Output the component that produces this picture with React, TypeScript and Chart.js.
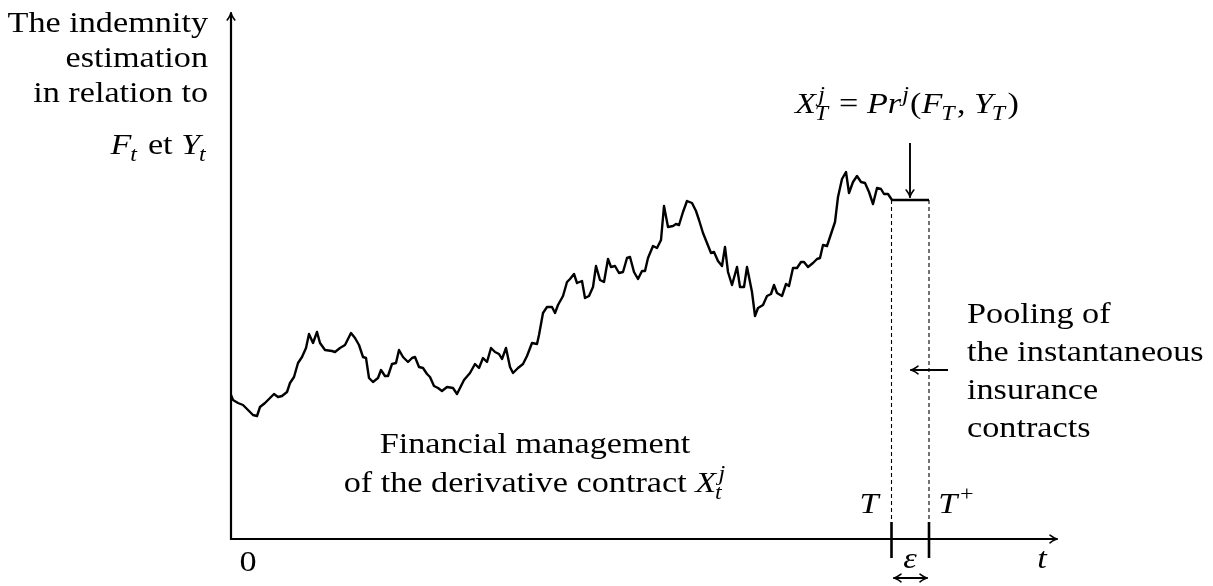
import React, { useEffect, useRef } from "react";
import { Chart, registerables } from "chart.js";

Chart.register(...registerables);

// Path of the indemnity estimation (x: time units from origin, y: value units)
const pathX = [
  0, 2, 7, 12, 17, 22, 26, 29, 34, 39, 43, 47, 51, 56, 59, 63, 67, 71, 75, 78,
  82, 86, 89, 94, 101, 104, 109, 114, 120, 124, 128, 132, 135, 138, 142, 147, 150, 154, 157, 161,
  165, 168, 172, 177, 181, 184, 188, 192, 196, 199, 203, 207, 211, 216, 222, 226, 233, 239, 244, 248,
  252, 256, 260, 264, 268, 271, 275, 279, 282, 287, 292, 296, 301, 306, 308, 312, 316, 321, 324, 327,
  332, 336, 339, 343, 346, 351, 354, 358, 362, 365, 369, 373, 377, 380, 384, 388, 392, 396, 399, 403,
  407, 411, 414, 417, 422, 426, 430, 433, 437, 442, 445, 448, 452, 456, 461, 465, 468, 472, 476, 480,
  483, 487, 491, 494, 497, 501, 506, 509, 513, 516, 521, 524, 527, 532, 536, 540, 543, 546, 551, 555,
  558, 562, 566, 570, 573, 577, 582, 586, 589, 592, 596, 600, 604, 607, 611, 615, 618, 622, 626, 630,
  634, 638, 642, 646, 650, 653, 657, 661, 698,
];
const pathY = [
  144, 139, 136, 134, 129, 124, 123, 132, 136, 141, 145, 142, 143, 147, 156, 162, 176, 182, 191, 205,
  196, 207, 196, 189, 188, 187, 191, 194, 206, 201, 194, 182, 181, 161, 157, 161, 169, 163, 163, 175,
  176, 189, 182, 177, 181, 182, 172, 171, 165, 162, 153, 151, 148, 152, 151, 145, 159, 166, 175, 171,
  181, 177, 191, 187, 185, 180, 191, 172, 166, 171, 175, 183, 196, 195, 204, 226, 232, 232, 226, 234,
  243, 257, 260, 265, 256, 258, 241, 243, 252, 273, 259, 257, 280, 272, 273, 266, 267, 281, 282, 267,
  260, 268, 268, 281, 293, 291, 299, 333, 312, 313, 315, 314, 327, 338, 336, 328, 319, 306, 296, 286,
  287, 278, 273, 292, 267, 254, 272, 252, 252, 272, 247, 223, 231, 234, 243, 245, 254, 246, 243, 255,
  253, 271, 271, 277, 277, 272, 276, 280, 281, 294, 293, 305, 317, 342, 360, 367, 346, 357, 363, 357,
  356, 347, 335, 351, 350, 345, 345, 339, 339,
];

const T_X = 660.5;
const TPLUS_X = 698;
const XT_LEVEL = 339;
const X_MAX = 827;
const Y_MAX = 527;

const FS = 29;
const SX = 1.18;

type Seg = { t: string; it?: boolean; sub?: string; sup?: string; supShift?: number };

function fnt(size: number, it?: boolean) {
  return `${it ? "italic " : ""}${size}px "Liberation Serif", "Times New Roman", serif`;
}

function segWidth(ctx: CanvasRenderingContext2D, s: Seg, size: number) {
  ctx.font = fnt(size, s.it);
  let w = ctx.measureText(s.t).width;
  if (s.sub || s.sup) {
    ctx.font = fnt(size * 0.7, true);
    const a = s.sub ? ctx.measureText(s.sub).width : 0;
    const b = s.sup ? ctx.measureText(s.sup).width + (s.supShift || 0) : 0;
    w += Math.max(a, b) + 1;
  }
  return w;
}

function drawRich(
  ctx: CanvasRenderingContext2D,
  segs: Seg[],
  x: number,
  y: number,
  align: "left" | "center" | "right",
  size = FS
) {
  let total = 0;
  for (const s of segs) total += segWidth(ctx, s, size);
  ctx.save();
  ctx.translate(x, y);
  ctx.scale(SX, 1);
  ctx.textAlign = "left";
  ctx.textBaseline = "alphabetic";
  ctx.fillStyle = "#000";
  let cx = align === "left" ? 0 : align === "center" ? -total / 2 : -total;
  for (const s of segs) {
    ctx.font = fnt(size, s.it);
    ctx.fillText(s.t, cx, 0);
    let w = ctx.measureText(s.t).width;
    if (s.sub || s.sup) {
      ctx.font = fnt(size * 0.7, true);
      let sw = 0;
      if (s.sub) {
        ctx.fillText(s.sub, cx + w - (s.it ? 1 : 0), size * 0.24);
        sw = Math.max(sw, ctx.measureText(s.sub).width);
      }
      if (s.sup) {
        const sh = s.supShift || 0;
        ctx.fillText(s.sup, cx + w + sh, -size * 0.42);
        sw = Math.max(sw, ctx.measureText(s.sup).width + sh);
      }
      w += sw + 1;
    }
    cx += w;
  }
  ctx.restore();
}

function arrowHead(ctx: CanvasRenderingContext2D, tx: number, ty: number, dx: number, dy: number) {
  const L = 8;
  const W = 3.8;
  const bx = tx - dx * L;
  const by = ty - dy * L;
  const nx = -dy;
  const ny = dx;
  ctx.save();
  ctx.lineWidth = 1.6;
  ctx.lineCap = "round";
  ctx.beginPath();
  ctx.moveTo(bx + nx * W, by + ny * W);
  ctx.quadraticCurveTo(tx - dx * 3, ty - dy * 3, tx, ty);
  ctx.quadraticCurveTo(tx - dx * 3, ty - dy * 3, bx - nx * W, by - ny * W);
  ctx.stroke();
  ctx.restore();
}

function arrow(
  ctx: CanvasRenderingContext2D,
  x1: number,
  y1: number,
  x2: number,
  y2: number,
  width: number,
  both = false
) {
  const len = Math.hypot(x2 - x1, y2 - y1);
  const dx = (x2 - x1) / len;
  const dy = (y2 - y1) / len;
  ctx.save();
  ctx.strokeStyle = "#000";
  ctx.lineWidth = width;
  ctx.beginPath();
  ctx.moveTo(x1 + (both ? dx : 0), y1 + (both ? dy : 0));
  ctx.lineTo(x2 - dx, y2 - dy);
  ctx.stroke();
  arrowHead(ctx, x2, y2, dx, dy);
  if (both) arrowHead(ctx, x1, y1, -dx, -dy);
  ctx.restore();
}

const annotations = {
  id: "annotations",
  afterDraw(chart: any) {
    const ctx: CanvasRenderingContext2D = chart.ctx;
    const xs = chart.scales.x;
    const ys = chart.scales.y;
    const X = (v: number) => xs.getPixelForValue(v);
    const Y = (v: number) => ys.getPixelForValue(v);
    ctx.save();
    ctx.strokeStyle = "#000";
    ctx.fillStyle = "#000";

    // axes
    ctx.lineWidth = 2.2;
    ctx.beginPath();
    ctx.moveTo(X(0), Y(0) + 1.1);
    ctx.lineTo(X(0), Y(Y_MAX) + 1);
    ctx.moveTo(X(0) - 1.1, Y(0));
    ctx.lineTo(X(X_MAX) - 1, Y(0));
    ctx.stroke();
    arrowHead(ctx, X(0), Y(Y_MAX), 0, -1);
    arrowHead(ctx, X(X_MAX), Y(0), 1, 0);

    // dashed verticals
    ctx.lineWidth = 1.1;
    ctx.setLineDash([4, 3]);
    ctx.beginPath();
    for (const tx of [T_X, TPLUS_X]) {
      ctx.moveTo(X(tx), Y(XT_LEVEL));
      ctx.lineTo(X(tx), Y(17));
    }
    ctx.stroke();
    ctx.setLineDash([]);

    // ticks on time axis
    ctx.lineWidth = 2.6;
    ctx.beginPath();
    for (const tx of [T_X, TPLUS_X]) {
      ctx.moveTo(X(tx), Y(17));
      ctx.lineTo(X(tx), Y(-19));
    }
    ctx.stroke();

    // arrows
    arrow(ctx, X(679), Y(396), X(679), Y(341), 1.9);
    arrow(ctx, X(717), Y(169), X(679), Y(169), 1.9);
    arrow(ctx, X(662), Y(-39), X(697), Y(-39), 1.9, true);

    // labels
    drawRich(ctx, [{ t: "0" }], X(17), Y(-32), "center");
    drawRich(ctx, [{ t: "T", it: true }], X(638), Y(26), "center");
    drawRich(ctx, [{ t: "T", it: true, sup: "+", supShift: 1 }], X(726), Y(26), "center");
    drawRich(ctx, [{ t: "ε", it: true }], X(679), Y(-29), "center");
    drawRich(ctx, [{ t: "t", it: true }], X(811), Y(-29), "center");

    drawRich(
      ctx,
      [
        { t: "X", it: true, sub: "T", sup: "j", supShift: 2 },
        { t: " = " },
        { t: "Pr", it: true, sup: "j", supShift: 1 },
        { t: "(" },
        { t: "F", it: true, sub: "T" },
        { t: ", " },
        { t: "Y", it: true, sub: "T" },
        { t: ")" },
      ],
      X(676),
      Y(426),
      "center"
    );

    const pool = ["Pooling of", "the instantaneous", "insurance", "contracts"];
    const poolY = [216, 178, 140, 102];
    pool.forEach((s, i) => drawRich(ctx, [{ t: s }], X(736), Y(poolY[i]), "left"));

    drawRich(ctx, [{ t: "Financial management" }], X(304), Y(86), "center");
    drawRich(
      ctx,
      [{ t: "of the derivative contract " }, { t: "X", it: true, sub: "t", sup: "j", supShift: 2 }],
      X(304),
      Y(47),
      "center"
    );

    drawRich(ctx, [{ t: "The indemnity" }], X(-23), Y(507), "right");
    drawRich(ctx, [{ t: "estimation" }], X(-23), Y(472), "right");
    drawRich(ctx, [{ t: "in relation to" }], X(-23), Y(437), "right");
    drawRich(
      ctx,
      [{ t: "F", it: true, sub: "t" }, { t: " et " }, { t: "Y", it: true, sub: "t" }],
      X(-23),
      Y(385),
      "right"
    );

    ctx.restore();
  },
};

export default function App() {
  const ref = useRef<HTMLCanvasElement | null>(null);
  useEffect(() => {
    document.body.style.margin = "0";
    const canvas = ref.current!;
    const chart = new Chart(canvas, {
      type: "line",
      data: {
        datasets: [
          {
            data: pathX.map((x, i) => ({ x, y: pathY[i] })),
            borderColor: "#000",
            borderWidth: 2.4,
            borderJoinStyle: "round",
            pointRadius: 0,
            tension: 0,
            fill: false,
          },
        ],
      },
      options: {
        responsive: false,
        animation: false,
        events: [],
        layout: { padding: { left: 231, right: 155, top: 12, bottom: 47 } },
        plugins: { legend: { display: false }, tooltip: { enabled: false } },
        scales: {
          x: { type: "linear", min: 0, max: X_MAX, display: false },
          y: { type: "linear", min: 0, max: Y_MAX, display: false },
        },
      },
      plugins: [annotations],
    });
    return () => chart.destroy();
  }, []);
  return (
    <div style={{ position: "fixed", left: 0, top: 0, width: 1213, height: 586, background: "#fff" }}>
      <canvas ref={ref} width={1213} height={586} style={{ display: "block" }} />
    </div>
  );
}
